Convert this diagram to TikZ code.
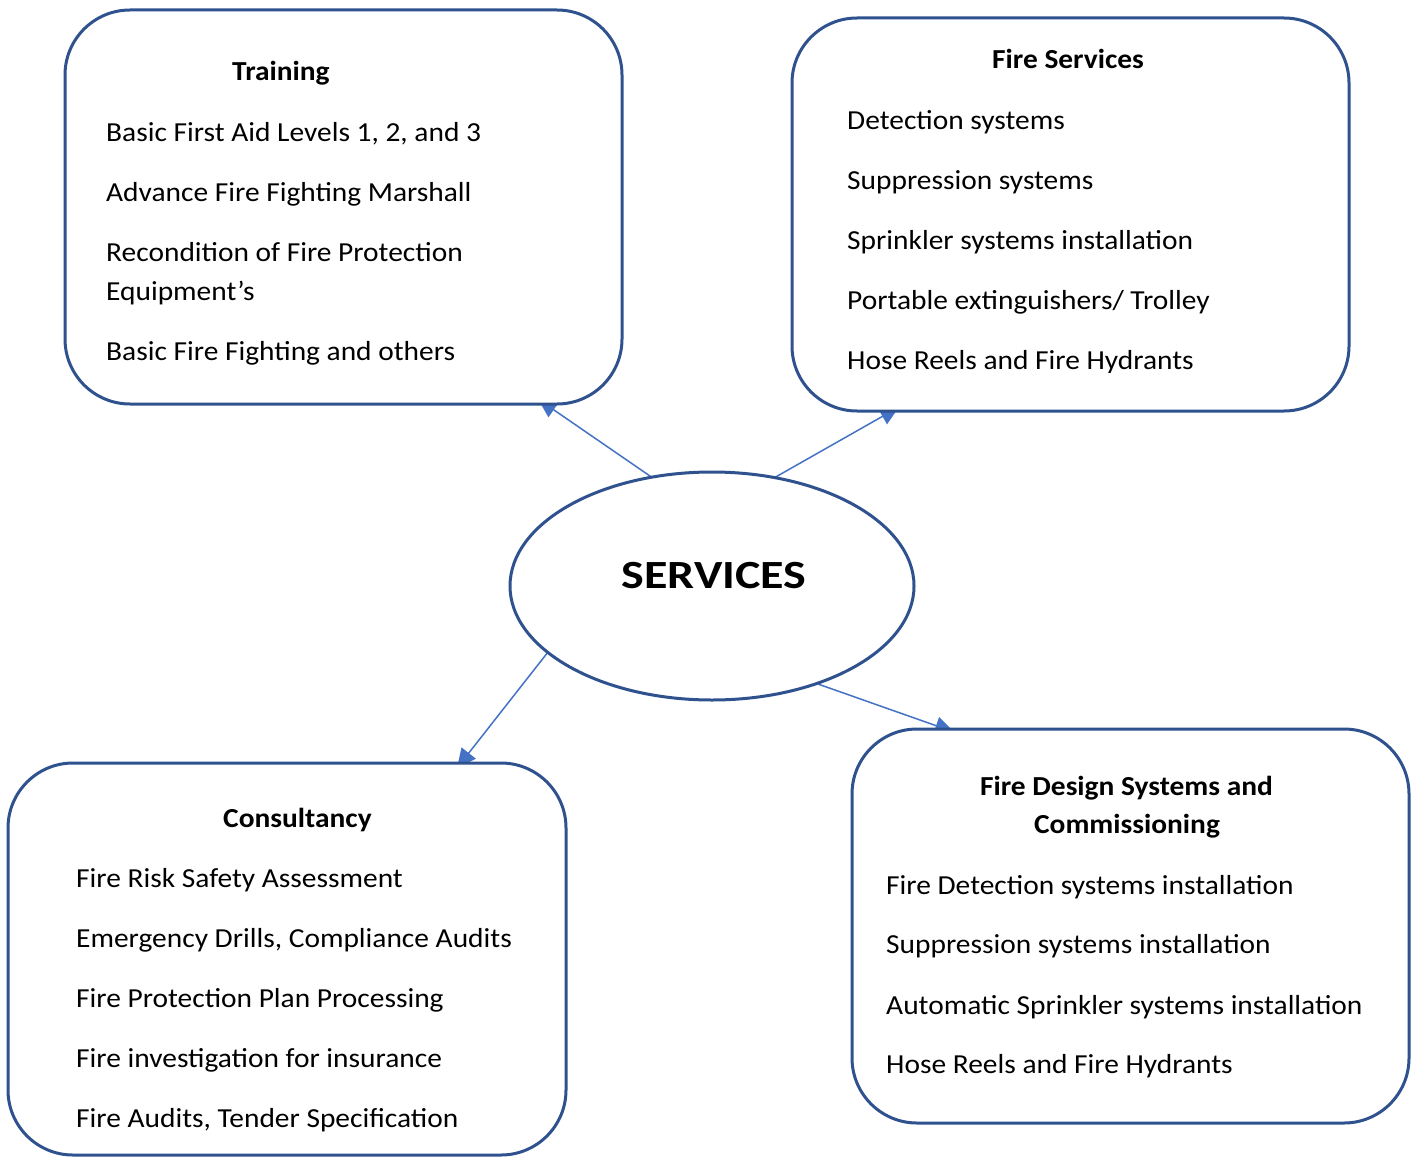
\documentclass[tikz,border=0pt]{standalone}
\usepackage{fontspec}
\setmainfont{Carlito}[FakeStretch=1.07]
\newfontfamily\titlefont{Carlito}[FakeStretch=1.2]
\usetikzlibrary{shapes.geometric,arrows.meta,backgrounds}
\definecolor{boxblue}{HTML}{2F528F}
\definecolor{arrblue}{HTML}{4472C4}
\begin{document}
\begin{tikzpicture}[x=1pt,y=-1pt,
  box/.style={draw=boxblue, line width=3pt, rounded corners=65pt, fill=white,
    minimum width=557pt, minimum height=394pt, inner sep=0pt, outer sep=0pt},
  item/.style={font=\fontsize{27.5}{33}\selectfont, anchor=base west, inner sep=0pt},
  head/.style={font=\bfseries\fontsize{27.5}{33}\selectfont, anchor=base west, inner sep=0pt},
  headc/.style={font=\bfseries\fontsize{27.5}{33}\selectfont, anchor=base, inner sep=0pt},
  conn/.style={draw=arrblue, line width=1.5pt, -{Triangle[length=19pt,width=18pt]}}
]
\useasboundingbox (0,0) rectangle (1415,1156);

% boxes
\node[box] (train) at (343.5,207) {};
\node[box, minimum height=393pt] (fsvc) at (1070.5,214.5) {};
\node[box, minimum width=558pt, minimum height=392pt] (cons) at (287,959) {};
\node[box] (fds) at (1130.5,926) {};

% central ellipse
\node[ellipse, draw=boxblue, line width=3pt, fill=white, minimum width=404pt,
  minimum height=228pt, inner sep=0pt, outer sep=0pt] (serv) at (712,586) {};
\node[font=\titlefont\bfseries\fontsize{40}{48}\selectfont, anchor=base, inner sep=0pt]
  (title) at (714,588) {SERVICES};

% arrow end points (tips hidden inside the boxes)
\coordinate (t1) at (538,399);
\coordinate (t2) at (899,407);
\coordinate (t3) at (457,768);
\coordinate (t4) at (954,732);

\begin{pgfonlayer}{background}
  \fill[white] (0,0) rectangle (1415,1156);
  \draw[conn] (serv.119.4) -- (t1);
  \draw[conn] (serv.60.5) -- (t2);
  \draw[conn] (serv.202.5) -- (t3);
  \draw[conn] (serv.317.2) -- (t4);
\end{pgfonlayer}

% Training
\node[head] (trh) at (232,81) {Training};
\node[item] (tr1) at (106,141) {Basic First Aid Levels 1, 2, and 3};
\node[item] (tr2) at (106,201) {Advance Fire Fighting Marshall};
\node[item] (tr3) at (106,261) {Recondition of Fire Protection};
\node[item] (tr4) at (106,300) {Equipment’s};
\node[item] (tr5) at (106,360) {Basic Fire Fighting and others};

% Fire Services
\node[head] (fsh) at (992,69) {Fire Services};
\node[item] (fs1) at (847,129) {Detection systems};
\node[item] (fs2) at (847,189) {Suppression systems};
\node[item] (fs3) at (847,249) {Sprinkler systems installation};
\node[item] (fs4) at (847,309) {Portable extinguishers/ Trolley};
\begin{scope}
  \clip (800,320) rectangle (1340,372);
  \node[item] (fs5) at (847,369) {Hose Reels and Fire Hydrants};
\end{scope}

% Consultancy
\node[head] (coh) at (223,827) {Consultancy};
\node[item] (co1) at (76,887) {Fire Risk Safety Assessment};
\node[item] (co2) at (76,947) {Emergency Drills, Compliance Audits};
\node[item] (co3) at (76,1007) {Fire Protection Plan Processing};
\node[item] (co4) at (76,1067) {Fire investigation for insurance};
\node[item] (co5) at (76,1127) {Fire Audits, Tender Specification};

% Fire Design Systems and Commissioning
\node[headc] (fdh1) at (1126.5,795) {Fire Design Systems and};
\node[headc] (fdh2) at (1127,833) {Commissioning};
\node[item] (fd1) at (886,894) {Fire Detection systems installation};
\node[item] (fd2) at (886,953) {Suppression systems installation};
\node[item] (fd3) at (886,1014) {Automatic Sprinkler systems installation};
\node[item] (fd4) at (886,1073) {Hose Reels and Fire Hydrants};
\end{tikzpicture}
\end{document}
